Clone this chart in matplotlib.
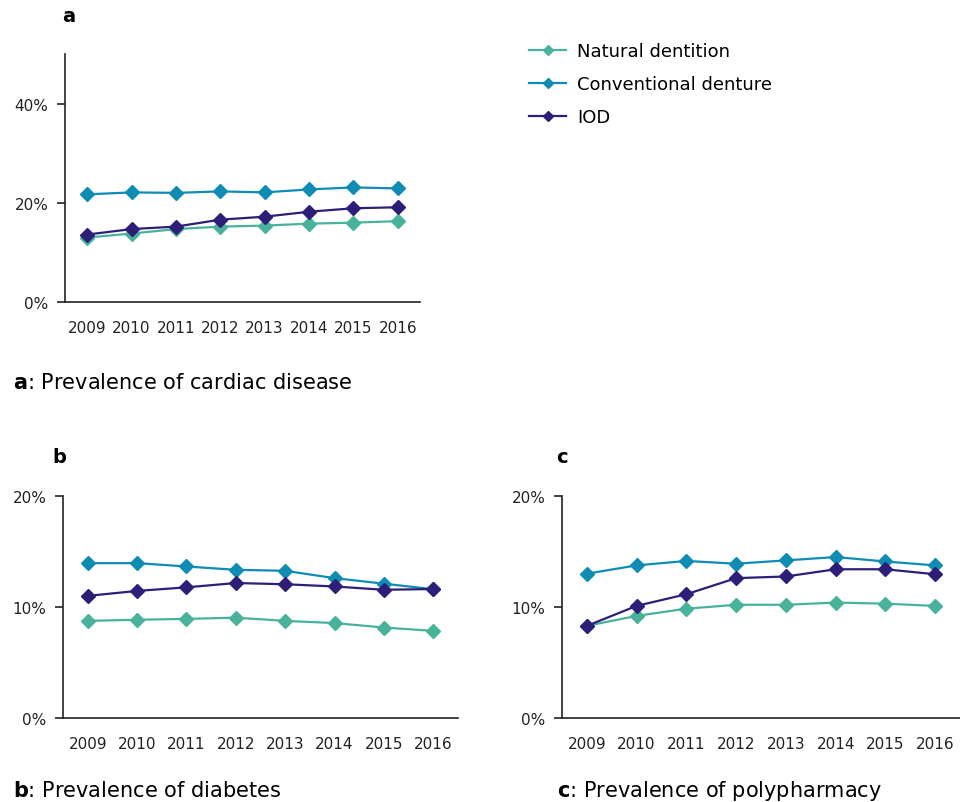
import matplotlib.pyplot as plt
from matplotlib.ticker import FuncFormatter

plt.rcParams['font.family'] = ['DejaVu Sans']
plt.rcParams['mathtext.fontset'] = 'dejavusans'

years = ['2009', '2010', '2011', '2012', '2013', '2014', '2015', '2016']
series_names = ['Natural dentition', 'Conventional denture', 'IOD']
colors = ['#48B29A', '#0F8CB4', '#2D1E78']

# prevalence in percent, one list per group
cardiac_natural = [13.0, 13.8, 14.7, 15.2, 15.4, 15.8, 16.0, 16.3]
cardiac_conv = [21.7, 22.1, 22.0, 22.3, 22.1, 22.7, 23.1, 22.9]
cardiac_iod = [13.6, 14.7, 15.2, 16.6, 17.2, 18.2, 18.9, 19.1]

diabetes_natural = [8.75, 8.85, 8.93, 9.04, 8.75, 8.55, 8.15, 7.85]
diabetes_conv = [13.95, 13.95, 13.65, 13.35, 13.26, 12.6, 12.1, 11.6]
diabetes_iod = [11.0, 11.45, 11.77, 12.16, 12.05, 11.85, 11.55, 11.62]

poly_natural = [8.3, 9.2, 9.85, 10.2, 10.2, 10.4, 10.3, 10.1]
poly_conv = [13.0, 13.75, 14.15, 13.9, 14.2, 14.5, 14.1, 13.75]
poly_iod = [8.3, 10.1, 11.15, 12.6, 12.75, 13.4, 13.4, 12.95]

W, H = 960, 803
fig = plt.figure(figsize=(W / 100, H / 100), dpi=100)


def make_ax(left, top, right, bottom):
    return fig.add_axes([left / W, 1 - bottom / H, (right - left) / W, (bottom - top) / H])


def style(ax, data, ymax, yticks):
    x = range(len(years))
    for vals, c, name in zip(data, colors, series_names):
        ax.plot(x, vals, color=c, lw=1.6, marker='D', ms=7, mec=c, mfc=c, label=name, clip_on=False)
    ax.set_xlim(-0.5, len(years) - 0.5)
    ax.set_ylim(0, ymax)
    ax.set_yticks(yticks)
    ax.yaxis.set_major_formatter(FuncFormatter(lambda v, p: f'{v:.0f}%'))
    ax.set_xticks(list(x))
    ax.set_xticklabels(years)
    for s in ['top', 'right']:
        ax.spines[s].set_visible(False)
    for s in ['left', 'bottom']:
        ax.spines[s].set_linewidth(1.2)
        ax.spines[s].set_color('#222222')
    ax.tick_params(axis='x', length=0, pad=13, labelsize=11, colors='#222222')
    ax.tick_params(axis='y', length=6, width=1.2, pad=6, labelsize=11, colors='#222222')


ax_a = make_ax(65, 55, 420, 303)
style(ax_a, [cardiac_natural, cardiac_conv, cardiac_iod], 50, [0, 20, 40])

ax_b = make_ax(63, 497, 458, 719)
style(ax_b, [diabetes_natural, diabetes_conv, diabetes_iod], 20, [0, 10, 20])

ax_c = make_ax(562, 497, 960, 719)
style(ax_c, [poly_natural, poly_conv, poly_iod], 20, [0, 10, 20])

handles, labels = ax_a.get_legend_handles_labels()
fig.legend(handles, labels, loc='upper left', bbox_to_anchor=(513 / W, 1 - 27 / H),
           frameon=False, fontsize=13, handlelength=2.05, labelspacing=0.82,
           handletextpad=0.6, markerscale=0.75)

# panel letters
fig.text(62 / W, 1 - 17 / H, 'a', fontsize=14, fontweight='bold', va='center')
fig.text(52 / W, 1 - 458 / H, 'b', fontsize=14, fontweight='bold', va='center')
fig.text(556 / W, 1 - 458 / H, 'c', fontsize=14, fontweight='bold', va='center')

# captions
captions = [(13, 383, 'a', 'Prevalence of cardiac disease'),
            (13, 791, 'b', 'Prevalence of diabetes'),
            (557, 791, 'c', 'Prevalence of polypharmacy')]
for cx, cy, letter, txt in captions:
    fig.text(cx / W, 1 - cy / H, rf'$\mathbf{{{letter}}}$: {txt}', fontsize=15, va='center')

fig.savefig('out.png', dpi=100)
